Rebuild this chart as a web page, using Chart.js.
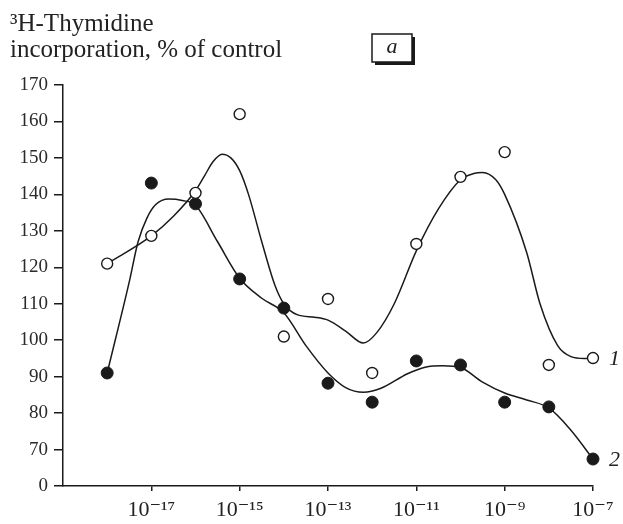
<!DOCTYPE html>
<html><head><meta charset="utf-8">
<script src="https://cdn.jsdelivr.net/npm/chart.js@4/dist/chart.umd.min.js"></script>
<style>html,body{margin:0;padding:0;background:#fff}#c{display:block}</style>
</head><body>
<canvas id="c" width="623" height="524"></canvas>
<script>
// concentration exponents (10^x, M)
const xExp = [-18,-17,-16,-15,-14,-13,-12,-11,-10,-9,-8,-7];
// curve 1 (open circles)
const series1 = [121,128.6,140.4,162,101,111.3,91,126.4,144.8,151.6,93.2,95.1];
// curve 2 (filled circles)
const series2 = [91,143.1,137.4,116.8,108.8,88.2,83,94.3,93.2,83,81.7,67.4];
// smoothed fitted curves
const curve1X = [-18,-17,-16.5,-16,-15.8,-15.6,-15.4,-15.2,-15,-14.8,-14.5,-14.2,-14,-13.7,-13.3,-13,-12.6,-12.2,-11.9,-11.5,-11,-10.5,-10,-9.7,-9.5,-9.2,-9,-8.5,-8.2,-7.8,-7.5,-7.2,-7];
const curve1Y = [121,128.6,134,141,145,149,151,150,146.5,140,127,115,110,107,106.3,105.5,102.5,99.2,102,110,124.5,136,144,145.7,146,144,140,124,110,98.5,95.5,95,95];
const curve2X = [-18,-17.5,-17.3,-17.1,-16.9,-16.6,-16.3,-16,-15.5,-15,-14.5,-14,-13.5,-13,-12.6,-12.2,-11.8,-11.2,-10.8,-10.4,-10,-9.5,-9,-8.5,-8,-7.5,-7];
const curve2Y = [91,116,127,133.5,137.2,138.7,138.3,137,127,117,111.5,107.5,98.5,91,87,85.7,86.8,90.8,92.6,93,92.5,88.5,85.5,83.6,81.4,75.3,67.4];
// axis ticks
const xTickExp = [-17,-15,-13,-11,-9,-7];
const yTickVals = [60,70,80,90,100,110,120,130,140,150,160,170];
const yMin = 60, yMax = 170, xMin = -19, xMax = -7;
const titleLines = ['\u00B3H-Thymidine','incorporation, % of control'];
const panelLabel = 'a';
const curveLabels = ['1','2'];

const supMap = {'-':'\u207B','0':'\u2070','1':'\u00B9','2':'\u00B2','3':'\u00B3','4':'\u2074','5':'\u2075','6':'\u2076','7':'\u2077','8':'\u2078','9':'\u2079'};
const toSup = n => String(n).split('').map(c => supMap[c]).join('');
const pts = (xs, ys) => xs.map((x, i) => ({x, y: ys[i]}));
const INK = '#1a1a1a';
const SERIF = '"Liberation Serif", "DejaVu Serif", serif';

const decor = {
  id: 'decor',
  afterDraw(chart) {
    const {ctx, scales: {x, y}} = chart;
    ctx.save();
    ctx.fillStyle = '#222';
    ctx.textAlign = 'left';
    ctx.textBaseline = 'alphabetic';
    ctx.font = '25px ' + SERIF;
    ctx.fillText(titleLines[0], 10, 31);
    ctx.fillText(titleLines[1], 10, 57);
    // panel box with shadow
    ctx.fillStyle = INK;
    ctx.fillRect(375, 37, 40, 28);
    ctx.fillStyle = '#fff';
    ctx.fillRect(372, 34, 40, 28);
    ctx.strokeStyle = INK; ctx.lineWidth = 1.5;
    ctx.strokeRect(372, 34, 40, 28);
    ctx.fillStyle = '#222';
    ctx.font = 'italic 22px ' + SERIF;
    ctx.textAlign = 'center'; ctx.textBaseline = 'middle';
    ctx.fillText(panelLabel, 392, 47);
    // curve labels
    ctx.textAlign = 'left';
    ctx.font = 'italic 22px ' + SERIF;
    const xl = x.getPixelForValue(xMax) + 16;
    ctx.fillText(curveLabels[0], xl, y.getPixelForValue(series1[series1.length-1]) + 1);
    ctx.fillText(curveLabels[1], xl, y.getPixelForValue(series2[series2.length-1]) + 1);
    ctx.restore();
  }
};

new Chart(document.getElementById('c'), {
  type: 'line',
  data: {
    datasets: [
      {type:'scatter', data: pts(xExp, series1), showLine:false, pointRadius:5.5, pointBackgroundColor:'#fff', pointBorderColor:INK, pointBorderWidth:1.4, clip:false},
      {type:'scatter', data: pts(xExp, series2), showLine:false, pointRadius:6, pointBackgroundColor:INK, pointBorderColor:INK, pointBorderWidth:1, clip:false},
      {data: pts(curve1X, curve1Y), borderColor:INK, borderWidth:1.5, pointRadius:0, cubicInterpolationMode:'monotone', fill:false, clip:false},
      {data: pts(curve2X, curve2Y), borderColor:INK, borderWidth:1.5, pointRadius:0, cubicInterpolationMode:'monotone', fill:false, clip:false}
    ]
  },
  options: {
    responsive:false, animation:false, devicePixelRatio:1,
    layout:{padding:{left:0, right:30, top:85, bottom:0}},
    plugins:{legend:{display:false}, tooltip:{enabled:false}},
    scales:{
      x:{type:'linear', min:xMin, max:xMax,
        afterBuildTicks: s => { s.ticks = xTickExp.map(v => ({value:v})); },
        afterFit: s => { s.height = 38; },
        ticks:{callback: v => '10' + toSup(v), font:{family:SERIF, size:22}, color:'#222', padding:6, maxRotation:0, autoSkip:false},
        grid:{drawOnChartArea:false, drawTicks:true, tickLength:5, color:INK, lineWidth:1.5},
        border:{display:true, color:INK, width:1.5}
      },
      y:{type:'linear', min:yMin, max:yMax,
        afterBuildTicks: s => { s.ticks = yTickVals.map(v => ({value:v})); },
        afterFit: s => { s.width = 63; },
        ticks:{callback: v => v === yMin ? '0' : String(v), font:{family:SERIF, size:19}, color:'#2a2a2a', padding:6},
        grid:{drawOnChartArea:false, drawTicks:true, tickLength:9, color:INK, lineWidth:1.5},
        border:{display:true, color:INK, width:1.5}
      }
    }
  },
  plugins:[decor]
});
</script>
</body></html>
